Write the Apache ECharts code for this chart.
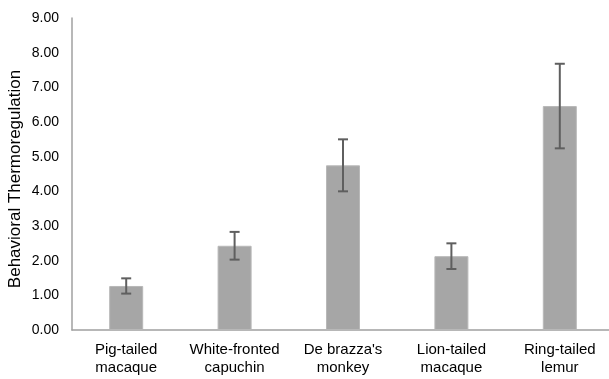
<!DOCTYPE html>
<html>
<head>
<meta charset="utf-8">
<script src="https://cdn.jsdelivr.net/npm/echarts@6/dist/echarts.min.js"></script>
<style>
  html, body { margin: 0; padding: 0; background: #fff; }
  #chart { width: 609px; height: 379px; }
</style>
</head>
<body>
<div id="chart"></div>
<script>
// Species compared
const categories = [
  'Pig-tailed\nmacaque',
  'White-fronted\ncapuchin',
  "De brazza's\nmonkey",
  'Lion-tailed\nmacaque',
  'Ring-tailed\nlemur'
];
// Mean behavioral thermoregulation score per species
const means = [1.27, 2.43, 4.75, 2.13, 6.46];
// Standard error for each mean
const errors = [0.22, 0.40, 0.75, 0.37, 1.22];
// Value axis ticks
const yTicks = [0, 1, 2, 3, 4, 5, 6, 7, 8, 9];

const font = '"Liberation Sans", Arial, sans-serif';
const chart = echarts.init(document.getElementById('chart'), null, { renderer: 'canvas' });

chart.setOption({
  animation: false,
  backgroundColor: '#ffffff',
  grid: { left: 72, right: -5, top: 18, bottom: 49, containLabel: false, outerBoundsMode: 'none' },
  xAxis: {
    type: 'category',
    data: categories,
    axisLine: { show: true, lineStyle: { color: '#a0a0a0', width: 1.5 } },
    axisTick: { show: false },
    axisLabel: {
      color: '#000',
      fontFamily: font,
      fontSize: 15,
      lineHeight: 18,
      margin: 11,
      interval: 0
    }
  },
  yAxis: {
    type: 'value',
    min: yTicks[0],
    max: yTicks[yTicks.length - 1],
    interval: 1,
    name: 'Behavioral Thermoregulation',
    nameLocation: 'middle',
    nameGap: 48,
    nameMoveOverlap: false,
    nameTextStyle: { color: '#000', fontFamily: font, fontSize: 17, padding: [0, 10, 0, 0] },
    axisLine: { show: true, lineStyle: { color: '#a0a0a0', width: 1.5 } },
    axisTick: { show: false },
    splitLine: { show: false },
    axisLabel: {
      color: '#000',
      fontFamily: font,
      fontSize: 14,
      margin: 13,
      formatter: v => v.toFixed(2)
    }
  },
  series: [
    {
      type: 'bar',
      data: means,
      barWidth: 34,
      itemStyle: { color: '#a6a6a6', borderColor: '#b8b8b8', borderWidth: 1 }
    },
    {
      type: 'custom',
      data: means.map((m, i) => [i, m - errors[i], m + errors[i]]),
      z: 10,
      renderItem: function (params, api) {
        const i = api.value(0);
        const lo = api.coord([i, api.value(1)]);
        const hi = api.coord([i, api.value(2)]);
        const cap = 5;
        const style = { stroke: '#5f5f5f', lineWidth: 2 };
        return {
          type: 'group',
          children: [
            { type: 'line', shape: { x1: hi[0], y1: hi[1], x2: lo[0], y2: lo[1] }, style },
            { type: 'line', shape: { x1: hi[0] - cap, y1: hi[1], x2: hi[0] + cap, y2: hi[1] }, style },
            { type: 'line', shape: { x1: lo[0] - cap, y1: lo[1], x2: lo[0] + cap, y2: lo[1] }, style }
          ]
        };
      }
    }
  ]
});
</script>
</body>
</html>
